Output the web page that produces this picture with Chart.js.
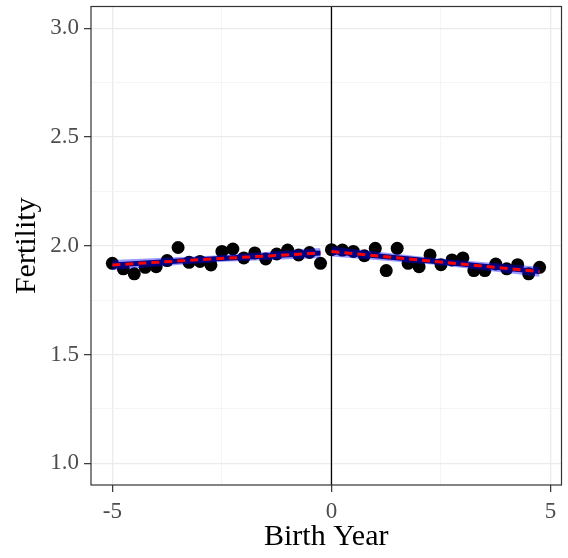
<!DOCTYPE html>
<html>
<head>
<meta charset="utf-8">
<script src="https://cdn.jsdelivr.net/npm/chart.js@4/dist/chart.umd.min.js"></script>
<style>
  html, body { margin: 0; padding: 0; background: #ffffff; }
  #wrap { width: 568px; height: 558px; }
</style>
</head>
<body>
<div id="wrap"><canvas id="fertilityChart" width="568" height="558"></canvas></div>
<script>
// binned means
let birthYear = [-5, -4.75, -4.5, -4.25, -4, -3.75, -3.5, -3.25, -3, -2.75,
    -2.5, -2.25, -2, -1.75, -1.5, -1.25, -1, -0.75, -0.5, -0.25,
    0, 0.25, 0.5, 0.75, 1, 1.25, 1.5, 1.75, 2, 2.25,
    2.5, 2.75, 3, 3.25, 3.5, 3.75, 4, 4.25, 4.5, 4.75];
let fertility = [1.919, 1.894, 1.871, 1.901, 1.904, 1.932, 1.992, 1.924, 1.928, 1.912,
    1.974, 1.985, 1.944, 1.967, 1.939, 1.962, 1.980, 1.958, 1.969, 1.919,
    1.982, 1.980, 1.974, 1.954, 1.988, 1.886, 1.988, 1.919, 1.904, 1.958,
    1.913, 1.935, 1.944, 1.886, 1.886, 1.916, 1.894, 1.913, 1.871, 1.901];

// linear fits each side of the cutoff, with confidence band
let fitXLeft = [-5, -2.625, -0.25];
let fitLeft = [1.912, 1.940, 1.967];
let bandLowLeft = [1.889, 1.925, 1.944];
let bandHighLeft = [1.935, 1.955, 1.990];

let fitXRight = [0, 2.375, 4.75];
let fitRight = [1.974, 1.9275, 1.881];
let bandLowRight = [1.951, 1.913, 1.858];
let bandHighRight = [1.997, 1.942, 1.904];

let cutoff = 0;
let xRange = [-5.4875, 5.25];
let yRange = [0.9, 3.1];
let xTicks = [-5, -2.5, 0, 2.5, 5];
let xLabelled = [-5, 0, 5];
let yTicks = [1, 1.25, 1.5, 1.75, 2, 2.25, 2.5, 2.75, 3];
let yLabelled = [1, 1.5, 2, 2.5, 3];

function toPoints(xs, ys) {
    return xs.map(function(x, i) { return {x: x, y: ys[i]}; });
}

function lineSet(xs, ys, color, width, dash) {
    return {
        type: 'line',
        data: toPoints(xs, ys),
        borderColor: color,
        borderWidth: width,
        borderDash: dash || [],
        pointRadius: 0,
        fill: false
    };
}

function bandSets(xs, lows, highs) {
    let high = lineSet(xs, highs, 'rgba(0,0,0,0)', 0);
    high.fill = '+1';
    high.backgroundColor = 'rgba(0,0,255,0.4)';
    let low = lineSet(xs, lows, 'rgba(0,0,0,0)', 0);
    return [high, low];
}

// panel border like theme_bw
let panelBorder = {
    id: 'panelBorder',
    afterDraw: function(chart) {
        let a = chart.chartArea;
        let ctx = chart.ctx;
        ctx.save();
        ctx.strokeStyle = '#333333';
        ctx.lineWidth = 1.2;
        ctx.strokeRect(a.left, a.top, a.right - a.left, a.bottom - a.top);
        ctx.restore();
    }
};

// no extra room for edge labels
function noEdgePadding(scale) {
    scale.paddingTop = 0;
    scale.paddingBottom = 0;
    scale.paddingLeft = 0;
    scale.paddingRight = 0;
}

function manageFertilityChart() {
    let ctx = document.getElementById('fertilityChart').getContext('2d');
    let bandL = bandSets(fitXLeft, bandLowLeft, bandHighLeft);
    let bandR = bandSets(fitXRight, bandLowRight, bandHighRight);
    // first dataset is drawn on top
    let datasets = [
        lineSet(fitXLeft, fitLeft, '#ff0000', 3, [8, 5]),
        lineSet(fitXRight, fitRight, '#ff0000', 3, [8, 5]),
        lineSet(fitXLeft, fitLeft, '#00008b', 5),
        lineSet(fitXRight, fitRight, '#00008b', 5),
        bandL[0], bandL[1], bandR[0], bandR[1],
        {
            type: 'scatter',
            data: toPoints(birthYear, fertility),
            backgroundColor: '#000000',
            borderWidth: 0,
            pointRadius: 6.5
        },
        lineSet([cutoff, cutoff], yRange, '#000000', 1.3)
    ];

    let myChart = new Chart(ctx, {
        type: 'scatter',
        data: {datasets: datasets},
        options: {
            responsive: false,
            animation: false,
            layout: {padding: {left: 0, right: 4, top: 6, bottom: 0}},
            plugins: {legend: {display: false}, tooltip: {enabled: false}},
            scales: {
                x: {
                    type: 'linear',
                    min: xRange[0],
                    max: xRange[1],
                    afterBuildTicks: function(scale) {
                        scale.ticks = xTicks.map(function(v) { return {value: v}; });
                    },
                    afterFit: function(scale) {
                        scale.height = 73;
                        noEdgePadding(scale);
                    },
                    border: {display: false},
                    grid: {
                        color: function(c) { return xLabelled.includes(c.tick.value) ? '#ebebeb' : '#f3f3f3'; },
                        lineWidth: function(c) { return xLabelled.includes(c.tick.value) ? 1.3 : 0.8; },
                        tickColor: function(c) { return xLabelled.includes(c.tick.value) ? '#333333' : 'rgba(0,0,0,0)'; },
                        tickLength: 7,
                        tickWidth: 1.2
                    },
                    ticks: {
                        autoSkip: false,
                        maxRotation: 0,
                        padding: 6,
                        color: '#4d4d4d',
                        font: {family: 'Liberation Serif', size: 23},
                        callback: function(v) { return xLabelled.includes(v) ? String(v) : ''; }
                    },
                    title: {
                        display: true,
                        text: 'Birth Year',
                        color: '#000000',
                        font: {family: 'Liberation Serif', size: 30},
                        padding: {top: 0, bottom: 3}
                    }
                },
                y: {
                    type: 'linear',
                    min: yRange[0],
                    max: yRange[1],
                    afterBuildTicks: function(scale) {
                        scale.ticks = yTicks.map(function(v) { return {value: v}; });
                    },
                    afterFit: function(scale) {
                        scale.width = 91;
                        noEdgePadding(scale);
                    },
                    border: {display: false},
                    grid: {
                        color: function(c) { return yLabelled.includes(c.tick.value) ? '#ebebeb' : '#f3f3f3'; },
                        lineWidth: function(c) { return yLabelled.includes(c.tick.value) ? 1.3 : 0.8; },
                        tickColor: function(c) { return yLabelled.includes(c.tick.value) ? '#333333' : 'rgba(0,0,0,0)'; },
                        tickLength: 7,
                        tickWidth: 1.2
                    },
                    ticks: {
                        autoSkip: false,
                        padding: 5,
                        color: '#4d4d4d',
                        font: {family: 'Liberation Serif', size: 23},
                        callback: function(v) { return yLabelled.includes(v) ? v.toFixed(1) : ''; }
                    },
                    title: {
                        display: true,
                        text: 'Fertility',
                        color: '#000000',
                        font: {family: 'Liberation Serif', size: 30},
                        padding: {top: 9, bottom: 0}
                    }
                }
            }
        },
        plugins: [panelBorder]
    });
}

manageFertilityChart();
</script>
</body>
</html>
